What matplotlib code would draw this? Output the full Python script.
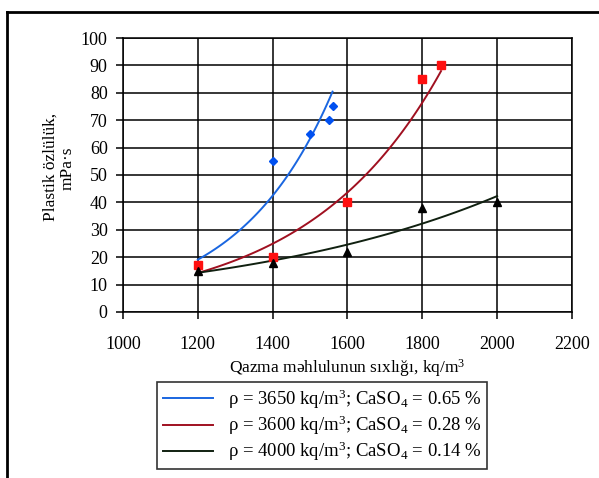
import numpy as np
import matplotlib.pyplot as plt
from matplotlib.lines import Line2D

# data
blue_x = [1200, 1400, 1500, 1550, 1560]
blue_y = [17, 55, 65, 70, 75]
red_x = [1200, 1400, 1600, 1800, 1850]
red_y = [17, 20, 40, 85, 90]
black_x = [1200, 1400, 1600, 1800, 2000]
black_y = [15, 18, 22, 38, 40]

labels = [
    r"$\mathregular{\rho}$ = 3650 kq/m$^3$; CaSO$_4$ = 0.65 %",
    r"$\mathregular{\rho}$ = 3600 kq/m$^3$; CaSO$_4$ = 0.28 %",
    r"$\mathregular{\rho}$ = 4000 kq/m$^3$; CaSO$_4$ = 0.14 %",
]

plt.rcParams['font.family'] = ['Liberation Serif', 'DejaVu Serif']
plt.rcParams['mathtext.fontset'] = 'custom'
plt.rcParams['mathtext.rm'] = 'Liberation Serif'
plt.rcParams['mathtext.it'] = 'Liberation Serif'


def exp_trend(x, y):
    # exponential trendline like the spreadsheet one
    b, ln_a = np.polyfit(x, np.log(y), 1)
    xs = np.linspace(min(x), max(x), 100)
    return xs, np.exp(ln_a) * np.exp(b * xs)


fig = plt.figure(figsize=(5.99, 4.78), dpi=100)
ax = fig.add_axes([0.2053, 0.3473, 0.7496, 0.5732])

series = [
    (blue_x, blue_y, '#1a66e0', 'D', 4, '#0050f0'),
    (red_x, red_y, '#a01020', 's', 6, '#ff1010'),
    (black_x, black_y, '#102010', '^', 6, '#000000'),
]
handles = []
for (x, y, lc, mk, ms, mc), lab in zip(series, labels):
    xs, ys = exp_trend(x, y)
    ax.plot(x, y, linestyle='none', marker=mk, markersize=ms, color=mc, zorder=4)
    h, = ax.plot(xs, ys, color=lc, lw=1.4, zorder=3, label=lab)
    handles.append(h)

ax.set_xlim(1000, 2200)
ax.set_ylim(0, 100)
ax.set_xticks(np.arange(1000, 2201, 200))
ax.set_yticks(np.arange(0, 101, 10))
ax.grid(True, color='black', lw=1.1)
ax.tick_params(direction='out', length=5, width=1.1, labelsize=13, pad=6)
ax.tick_params(axis='x', pad=12)
for s in ax.spines.values():
    s.set_linewidth(1.1)
ax.set_axisbelow(True)

ax.set_xlabel("Qazma məhlulunun sıxlığı, kq/m$^3$", fontsize=12.5, labelpad=3)
fig.text(0.085, 0.650, "Plastik özlülük,", rotation=90, fontsize=12.5,
         ha='center', va='center')
fig.text(0.113, 0.648, "mPa·s", rotation=90, fontsize=12.5,
         ha='center', va='center')

leg = fig.legend(handles=handles, loc='center', bbox_to_anchor=(0.538, 0.110),
                 fontsize=13.5, frameon=True, fancybox=False, handlelength=2.7,
                 handletextpad=0.8, borderpad=0.3, labelspacing=0.15,
                 borderaxespad=0, edgecolor='black')
leg.get_frame().set_linewidth(1.2)

# outer frame of the picture
fig.add_artist(Line2D([0.012, 0.012], [0.0, 0.975], color='black', lw=2,
                      transform=fig.transFigure))
fig.add_artist(Line2D([0.012, 1.0], [0.975, 0.975], color='black', lw=2,
                      transform=fig.transFigure))

fig.savefig('out.png', dpi=100)
